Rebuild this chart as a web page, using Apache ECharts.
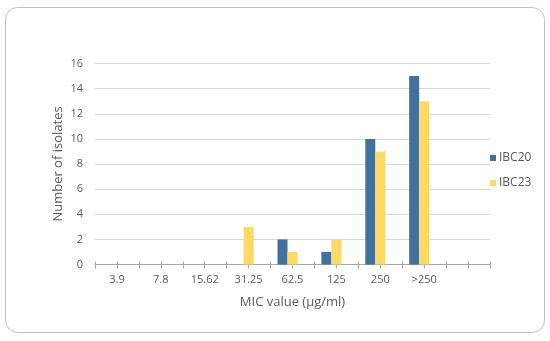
<!DOCTYPE html>
<html>
<head>
<meta charset="utf-8">
<script src="https://cdn.jsdelivr.net/npm/echarts@6/dist/echarts.min.js"></script>
<style>
html,body{margin:0;padding:0;background:#fff;}
#chart{width:550px;height:341px;}
</style>
</head>
<body>
<div id="chart"></div>
<script>
const categories = ['3.9', '7.8', '15.62', '31.25', '62.5', '125', '250', '>250', ''];
const ibc20 = [0, 0, 0, 0, 2, 1, 10, 15, null];
const ibc23 = [0, 0, 0, 3, 1, 2, 9, 13, null];
const emptySeries = [null, null, null, null, null, null, null, null, null];
const yTicks = { min: 0, max: 16, interval: 2 };
const halfSlots = new Array(categories.length * 2).fill('');

const FONT = 'Open Sans';
const chart = echarts.init(document.getElementById('chart'), null, { renderer: 'canvas' });
chart.setOption({
  backgroundColor: '#fff',
  animation: false,
  textStyle: { fontFamily: FONT },
  graphic: [{
    type: 'rect',
    shape: { x: 5.5, y: 7.5, width: 539, height: 325, r: 12 },
    style: { fill: 'none', stroke: '#bfbfbf', lineWidth: 1 },
    silent: true
  }],
  grid: { left: 95, right: 60, top: 63.5, bottom: 76.5, containLabel: false },
  legend: {
    orient: 'vertical',
    left: 485,
    top: 146,
    itemWidth: 6,
    itemHeight: 6,
    itemGap: 11,
    icon: 'rect',
    data: ['IBC20', 'IBC23'],
    textStyle: { color: '#595959', fontSize: 12, fontFamily: FONT, lineHeight: 14, padding: [0, 0, 0, -2] }
  },
  xAxis: [{
    type: 'category',
    data: categories,
    boundaryGap: true,
    name: 'MIC value (µg/ml)',
    nameLocation: 'middle',
    nameGap: 31,
    nameMoveOverlap: false,
    nameTextStyle: { color: '#595959', fontSize: 13, fontFamily: FONT },
    axisLine: { show: true, lineStyle: { color: '#a6a6a6', width: 1 } },
    axisTick: { show: false },
    axisLabel: { color: '#595959', fontSize: 11, fontFamily: FONT, margin: 10, interval: 0 }
  }, {
    type: 'category',
    data: halfSlots,
    position: 'bottom',
    offset: -3,
    boundaryGap: true,
    axisLine: { show: false },
    axisTick: { show: true, length: 7, interval: 0, lineStyle: { color: '#a6a6a6', width: 1 } },
    axisLabel: { show: false }
  }],
  yAxis: {
    type: 'value',
    min: yTicks.min,
    max: yTicks.max,
    interval: yTicks.interval,
    name: 'Number of isolates',
    nameLocation: 'middle',
    nameGap: 30,
    nameMoveOverlap: false,
    nameTextStyle: { color: '#595959', fontSize: 13, fontFamily: FONT },
    axisLine: { show: false },
    axisTick: { show: false },
    axisLabel: { color: '#595959', fontSize: 11, fontFamily: FONT, margin: 12 },
    splitLine: { show: true, lineStyle: { color: '#d9d9d9', width: 1 } }
  },
  series: [{
    name: 'IBC20',
    type: 'bar',
    data: ibc20,
    barWidth: 10,
    barGap: '0%',
    itemStyle: { color: '#41719c' }
  }, {
    name: 'IBC23',
    type: 'bar',
    data: ibc23,
    barWidth: 10,
    barGap: '0%',
    itemStyle: { color: '#ffd966' }
  }, {
    name: 'blank',
    type: 'bar',
    data: emptySeries,
    barWidth: 10,
    barGap: '0%',
    itemStyle: { color: 'rgba(0,0,0,0)' }
  }]
});
</script>
</body>
</html>
